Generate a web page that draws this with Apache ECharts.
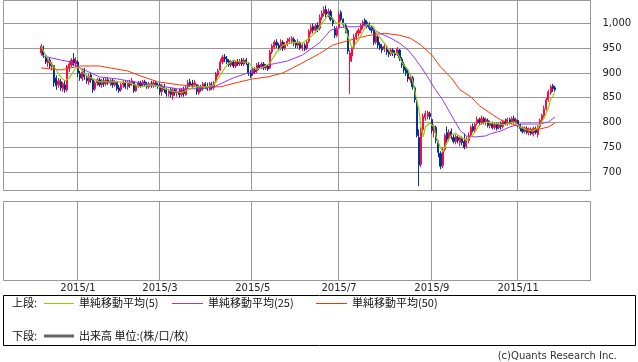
<!DOCTYPE html>
<html><head><meta charset="utf-8">
<script src="https://cdn.jsdelivr.net/npm/echarts@6/dist/echarts.min.js"></script>
<style>html,body{margin:0;padding:0;background:#fff}#c{width:638px;height:362px}</style>
</head><body><div id="c"></div>
<script>
// Trading calendar (Tokyo) spanned by the x axis
const firstCategory = '2014/11/11';
const lastCategory = '2015/12/21';
const firstDataDay = '2014/12/05';
const holidays = ['2014/11/24','2014/12/23','2014/12/31','2015/01/01','2015/01/02','2015/01/12','2015/02/11',
  '2015/04/29','2015/05/04','2015/05/05','2015/05/06','2015/07/20','2015/09/21','2015/09/22','2015/09/23',
  '2015/10/12','2015/11/03','2015/11/23','2015/12/23','2015/12/31'];

// Daily candles from 2014/12/05
const opens = [940,952,935,920,926,912,915,890,876,882,868,876,866,910,916,928,918,
922,898,888,904,890,882,896,886,868,880,886,876,884,878,886,880,884,876,882,
870,866,876,880,872,880,878,882,864,874,880,876,882,876,872,878,874,880,876,
876,862,872,866,858,866,854,866,860,862,856,866,856,872,882,878,876,876,860,872,868,878,
872,866,876,870,882,896,906,922,932,928,924,916,922,914,922,918,926,918,926,918,900,
898,906,904,916,912,918,910,914,910,942,952,962,956,950,962,950,958,964,
964,968,960,956,960,950,956,950,964,984,994,986,996,990,1012,1020,1028,1020,1024,1006,990,976,
992,1022,1008,996,986,924,934,952,972,980,986,994,1006,1002,998,992,986,962,972,958,952,948,
952,944,938,946,940,938,946,928,918,908,900,886,890,870,842,770,716,786,810,812,818,
806,780,790,760,738,714,746,780,768,782,770,762,770,760,768,762,752,764,774,
792,786,798,806,800,808,800,804,794,798,790,796,790,798,792,802,798,806,800,808,800,
804,796,788,782,788,780,786,776,788,776,792,804,814,828,846,860,874,870];
const closes = [954,936,922,928,914,918,880,874,884,870,878,866,912,918,926,920,924,
900,890,902,892,884,894,886,866,880,886,876,884,878,886,880,884,876,882,868,
864,876,880,872,880,876,884,864,874,880,874,882,876,872,878,874,880,876,874,
862,874,866,858,864,856,866,860,862,856,866,858,870,880,876,874,880,862,872,866,878,872,
868,878,870,880,898,904,922,932,928,922,916,922,914,922,918,924,918,926,920,900,894,
908,902,916,910,918,910,914,908,942,954,962,956,948,962,950,958,964,968,
970,960,956,962,950,956,948,962,984,992,986,994,988,1012,1020,1028,1018,1024,1008,1000,976,988,
1018,1008,998,986,944,940,950,972,980,986,996,1002,998,994,990,986,962,974,956,950,946,954,
942,938,946,940,936,948,930,916,906,900,888,892,872,846,774,714,782,812,818,820,812,
784,792,764,740,712,744,774,766,780,772,762,772,764,770,760,750,766,774,790,
784,796,806,800,808,800,806,794,798,790,796,788,796,792,802,798,806,800,808,802,806,
796,788,782,788,780,786,778,788,780,790,804,814,828,846,862,872,868,866];
const lows = [936,930,918,912,908,905,872,866,870,864,862,860,862,902,912,914,912,
892,884,884,886,878,876,880,860,864,874,872,870,872,874,876,874,870,872,864,
860,862,870,868,866,870,874,860,862,870,870,872,872,868,868,870,870,872,868,
856,854,860,852,852,850,846,854,852,850,852,852,854,868,872,870,872,856,856,862,864,868,
864,864,866,866,880,892,904,918,922,918,912,912,910,910,914,914,914,914,916,894,890,
894,898,900,906,908,906,906,904,908,938,948,950,944,946,944,946,954,958,
958,954,950,950,946,944,944,946,960,978,980,980,982,986,1006,1014,1012,1012,1004,994,970,972,
990,1004,992,980,938,858,922,948,966,974,980,988,994,990,986,980,956,958,950,946,940,942,
936,932,934,934,930,934,924,910,900,894,882,880,866,840,770,672,710,780,804,806,806,
778,770,758,730,706,708,742,760,762,766,758,756,758,752,754,746,748,758,770,
780,780,794,794,796,796,794,790,788,786,786,784,786,786,788,794,794,796,796,798,796,
790,782,778,778,776,774,774,772,776,770,788,800,810,824,842,856,862,862];
const highs = [958,955,938,932,930,922,916,895,890,888,882,884,916,924,930,940,932,
926,904,908,910,896,898,900,890,884,890,890,888,890,892,892,888,888,886,884,
876,880,886,884,884,886,890,884,878,884,884,886,886,882,882,884,884,884,880,
880,878,878,870,868,870,870,870,868,868,870,872,874,886,888,886,886,878,876,876,882,882,
880,882,882,884,902,908,928,936,938,934,928,926,926,926,928,928,930,930,930,920,906,
912,912,920,922,922,922,918,918,946,958,966,968,960,968,966,962,970,972,
974,972,966,968,964,960,960,966,988,998,1000,1000,1002,1018,1026,1034,1036,1030,1028,1012,994,994,
1024,1026,1010,1000,990,946,954,978,984,990,1000,1006,1010,1006,1002,996,990,982,976,962,958,958,
956,948,950,950,946,952,948,932,922,912,906,898,894,874,846,786,790,818,824,824,822,
808,796,794,764,742,750,778,792,786,788,776,776,774,774,772,778,772,780,794,
798,800,812,810,814,812,810,808,804,802,800,800,800,802,806,808,810,810,812,814,810,
806,798,792,792,792,790,790,792,792,794,808,818,834,850,866,876,878,874];

// Moving averages: [trading-day index from firstDataDay, value]
const ma5 = [[0,953],[2,936],[4,922],[7,906],[9,892],[11,884],[13,890],[16,910],[18,910],[20,898],[23,890],
[27,882],[32,882],[37,882],[41,880],[46,872],[51,876],[55,872],[60,864],[65,860],[68,866],[71,872],[74,872],
[77,872],[80,876],[83,896],[86,916],[89,926],[92,922],[96,922],[98,910],[100,908],[103,912],[106,920],
[109,942],[112,956],[115,960],[119,962],[121,960],[125,973],[128,987],[130,1000],[133,1017],[135,1010],
[137,1000],[140,1000],[142,975],[144,950],[147,966],[149,983],[151,998],[154,993],[156,976],[159,960],
[162,940],[165,940],[167,922],[170,906],[172,886],[173,866],[175,825],[176,791],[177,771],[178,791],
[180,799],[182,791],[183,771],[185,749],[186,741],[188,759],[190,775],[192,779],[194,771],[197,765],
[199,771],[201,781],[203,795],[206,801],[210,799],[214,795],[219,801],[222,791],[225,785],[228,783],
[230,789],[233,809],[235,829],[236,846],[238,860]];
const ma25 = [[0,935],[9,926],[14,922],[18,910],[27,892],[35,888],[43,882],[52,876],[63,868],[74,868],
[80,872],[89,890],[97,902],[105,916],[114,924],[121,936],[129,961],[134,986],[137,990],[141,993],
[146,993],[150,996],[153,990],[157,980],[162,970],[166,960],[170,946],[173,930],[176,912],[179,892],
[183,864],[186,846],[190,815],[194,785],[197,773],[201,771],[206,773],[208,777],[213,783],[217,791],
[222,797],[227,797],[231,797],[235,801],[238,811]];
const ma50 = [[0,910],[9,906],[18,914],[27,914],[32,910],[40,904],[46,894],[54,882],[64,876],[74,872],
[83,872],[92,882],[98,888],[105,892],[112,900],[120,918],[129,939],[135,956],[143,966],[151,975],
[159,980],[166,976],[171,970],[176,956],[181,936],[185,912],[190,890],[194,866],[199,852],[203,834],
[208,819],[213,805],[217,799],[222,791],[227,786],[231,787],[235,791],[238,799]];

const yTicks = [700,750,800,850,900,950,1000];
const labelMonths = [1,3,5,7,9,11];

// ---- build categories ----
function fmt(d){return d.getFullYear()+'/'+String(d.getMonth()+1).padStart(2,'0')+'/'+String(d.getDate()).padStart(2,'0');}
function parse(s){const p=s.split('/');return new Date(+p[0],+p[1]-1,+p[2]);}
const cats=[];
for(let d=parse(firstCategory), e=parse(lastCategory); d<=e; d.setDate(d.getDate()+1)){
  const s=fmt(d), wd=d.getDay();
  if(wd!==0 && wd!==6 && holidays.indexOf(s)<0) cats.push(s);
}
const start = cats.indexOf(firstDataDay);
const candles = cats.map((c,i)=>{const k=i-start; return (k>=0&&k<opens.length)?[opens[k],closes[k],lows[k],highs[k]]:['-','-','-','-'];});
const tickIdx = new Set();
cats.forEach((c,i)=>{ if(i===0) return; const m=+c.split('/')[1], pm=+cats[i-1].split('/')[1];
  if(m!==pm && labelMonths.indexOf(m)>=0 && c.slice(0,4)==='2015') tickIdx.add(i); });
const toLine = arr => arr.map(p=>[cats[start+p[0]], p[1]]);

const GRID = '#999999';
const UP = '#ff0a3c', DOWN = '#003399';
const chart = echarts.init(document.getElementById('c'), null, {renderer:'canvas'});
const txt = (t,x,y,extra)=>Object.assign({type:'text',silent:true,style:{text:t,x:x,y:y,fill:'#111',font:'11px "Noto Sans CJK JP", sans-serif',textVerticalAlign:'middle',verticalAlign:'middle'}},extra||{});
const seg = (x1,x2,y,color,w)=>({type:'line',silent:true,shape:{x1:x1,y1:y,x2:x2,y2:y},style:{stroke:color,lineWidth:w||1}});
chart.setOption({
  animation:false,
  grid:[
    {left:3.5, top:0.5, width:587, height:190, show:true, borderColor:GRID, borderWidth:1, backgroundColor:'transparent'},
    {left:3.5, top:201.5, width:587, height:79, show:true, borderColor:GRID, borderWidth:1, backgroundColor:'transparent'}
  ],
  xAxis:[
    {type:'category', gridIndex:0, data:cats, boundaryGap:true, axisLine:{show:false}, axisTick:{show:false}, axisLabel:{show:false},
     splitLine:{show:true, interval:(i)=>tickIdx.has(i), lineStyle:{color:GRID,width:1}}},
    {type:'category', gridIndex:1, data:cats, boundaryGap:true, axisLine:{show:false}, axisTick:{show:false},
     axisLabel:{show:true, interval:(i)=>tickIdx.has(i), margin:3, color:'#222', fontSize:10, fontFamily:'DejaVu Sans',
       formatter:(v)=>{const p=v.split('/');return p[0]+'/'+(+p[1]);}},
     splitLine:{show:true, interval:(i)=>tickIdx.has(i), lineStyle:{color:GRID,width:1}}}
  ],
  yAxis:[
    {type:'value', gridIndex:0, position:'right', min:663, max:1046, scale:true,
     axisLine:{show:false}, axisTick:{show:false, customValues:yTicks},
     axisLabel:{show:true, customValues:yTicks, margin:12, color:'#222', fontSize:10, fontFamily:'DejaVu Sans',
       formatter:(v)=>v.toLocaleString('en-US')},
     splitLine:{show:true, lineStyle:{color:GRID,width:1}}},
    {type:'value', gridIndex:1, show:false, min:0, max:1, splitLine:{show:false}}
  ],
  series:[
    {type:'candlestick', name:'price', xAxisIndex:0, yAxisIndex:0, data:candles, barWidth:1.6, z:2,
     itemStyle:{color:UP, color0:DOWN, borderColor:UP, borderColor0:DOWN, borderWidth:1}},
    {type:'line', name:'単純移動平均(5)', data:toLine(ma5), showSymbol:false, symbol:'none', z:5, lineStyle:{color:'#99cc00',width:1.2}},
    {type:'line', name:'単純移動平均(25)', data:toLine(ma25), showSymbol:false, symbol:'none', z:4, lineStyle:{color:'#9933ff',width:1}},
    {type:'line', name:'単純移動平均(50)', data:toLine(ma50), showSymbol:false, symbol:'none', z:3, lineStyle:{color:'#ff3300',width:1}},
    {type:'bar', name:'出来高', xAxisIndex:1, yAxisIndex:1, data:[]}
  ],
  graphic:[
    {type:'rect', silent:true, shape:{x:3.5,y:295.5,width:632,height:50}, style:{fill:'none',stroke:'#000',lineWidth:1}},
    txt('上段:',12,303),
    seg(44,74,303.5,'#99cc00',1), txt('単純移動平均(5)',79,303),
    seg(172,203,303.5,'#9933ff',1), txt('単純移動平均(25)',208,303),
    seg(316,347,303.5,'#ff3300',1), txt('単純移動平均(50)',352,303),
    txt('下段:',12,336),
    seg(44,74,336,'#666666',3), txt('出来高 単位:(株/口/枚)',79,336),
    txt('(c)Quants Research Inc.',617,356,{style:{text:'(c)Quants Research Inc.',x:617,y:356,fill:'#333',font:'10px "DejaVu Sans", sans-serif',textAlign:'right',align:'right',textVerticalAlign:'middle',verticalAlign:'middle'}})
  ]
});
</script></body></html>
